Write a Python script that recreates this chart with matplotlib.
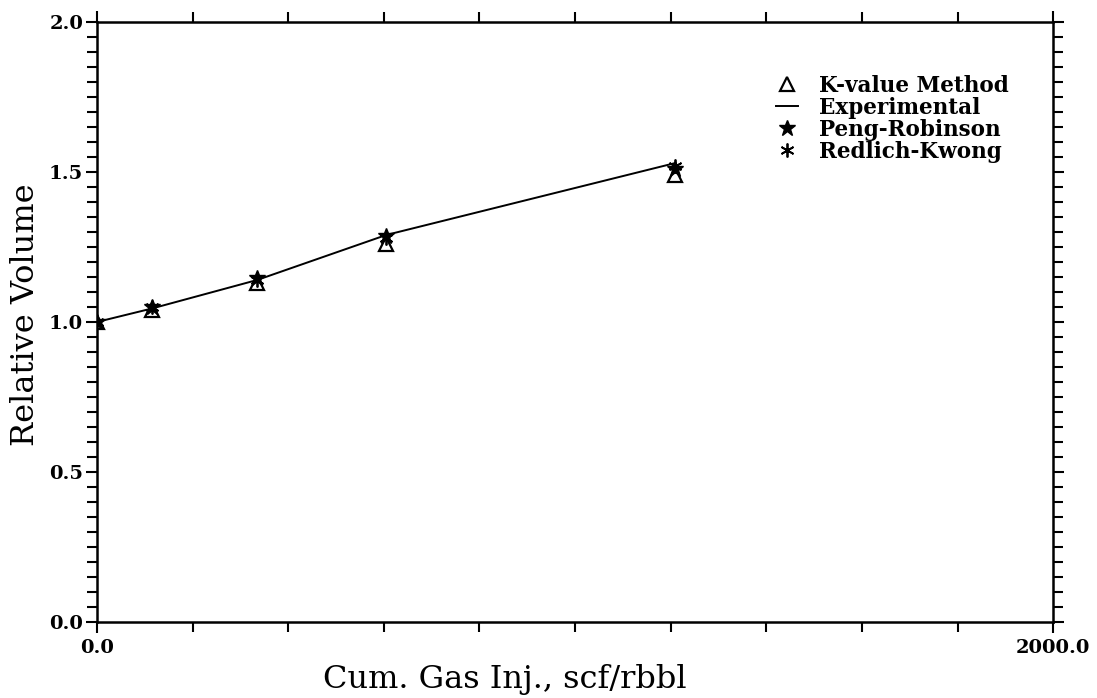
import matplotlib
matplotlib.use("Agg")
import matplotlib.pyplot as plt
from matplotlib.ticker import MultipleLocator, FixedLocator, FormatStrFormatter

# Data
x_vals = [0, 115, 335, 605, 1210]
kvalue = [1.0, 1.04, 1.13, 1.26, 1.49]
experimental = [1.0, 1.045, 1.14, 1.29, 1.53]
peng_robinson = [1.0, 1.05, 1.145, 1.285, 1.51]
redlich_kwong = [1.0, 1.05, 1.14, 1.28, 1.52]

plt.rcParams['font.family'] = ['DejaVu Serif']

fig = plt.figure(figsize=(10.97, 6.98), dpi=100)
ax = fig.add_axes([0.0884, 0.1089, 0.8716, 0.8596])

ax.plot(x_vals, experimental, '-', color='black', lw=1.4, label='Experimental', zorder=2)
ax.plot(x_vals, kvalue, linestyle='none', marker='^', markersize=10, markerfacecolor='white',
        markeredgecolor='black', markeredgewidth=1.6, label='K-value Method', zorder=3)
ax.plot(x_vals, peng_robinson, linestyle='none', marker='*', markersize=12, color='black',
        label='Peng-Robinson', zorder=4)
ax.plot(x_vals, redlich_kwong, linestyle='none', marker=(6, 2, 0), markersize=10, color='black',
        markeredgewidth=1.3, label='Redlich-Kwong', zorder=5)

ax.set_xlim(0, 2000)
ax.set_ylim(0, 2.0)

ax.xaxis.set_major_locator(FixedLocator([0, 2000]))
ax.xaxis.set_minor_locator(MultipleLocator(200))
ax.set_xticklabels(['0.0', '2000.0'])
ax.yaxis.set_major_locator(MultipleLocator(0.5))
ax.yaxis.set_minor_locator(MultipleLocator(0.05))
ax.yaxis.set_major_formatter(FormatStrFormatter('%.1f'))

ax.tick_params(which='both', direction='out', top=True, right=True, width=1.5, color='black')
ax.tick_params(which='major', length=8, labelsize=14)
ax.tick_params(which='minor', length=7)
ax.tick_params(axis='y', which='major', pad=2)
ax.tick_params(axis='x', which='major', pad=4)
for lab in ax.get_xticklabels() + ax.get_yticklabels():
    lab.set_fontweight('bold')

for sp in ax.spines.values():
    sp.set_linewidth(1.8)

ax.set_xlabel('Cum. Gas Inj., scf/rbbl', fontsize=23, va='center')
ax.xaxis.set_label_coords((505 - 97) / 956, (622 - 680) / 600)
ax.set_ylabel('Relative Volume', fontsize=23, va='center')
ax.yaxis.set_label_coords((26 - 97) / 956, (622 - 315) / 600)

handles, labels = ax.get_legend_handles_labels()
order = [1, 0, 2, 3]
leg = ax.legend([handles[i] for i in order], [labels[i] for i in order],
                loc='upper right', bbox_to_anchor=((1009 - 97) / 956, (622 - 75) / 600),
                frameon=False, borderaxespad=0, borderpad=0,
                prop={'weight': 'bold', 'size': 15.5}, handlelength=1.0, handletextpad=1.0,
                labelspacing=0.0)

fig.savefig('out.png', dpi=100)
